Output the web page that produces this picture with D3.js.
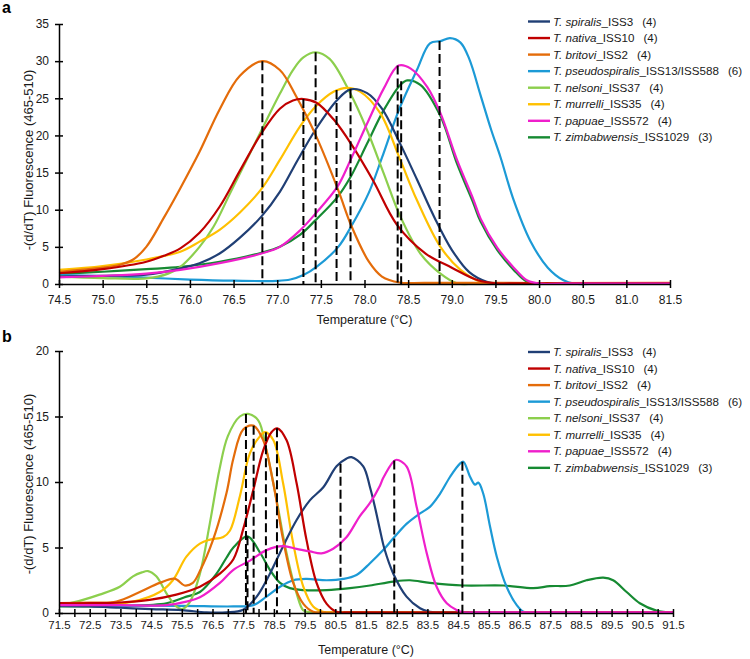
<!DOCTYPE html>
<html>
<head>
<meta charset="utf-8">
<title>Trichinella HRM melting peaks</title>
<script src="https://d3js.org/d3.v7.min.js"></script>
<style>
  body { margin: 0; background: #fff; }
  svg { font-family: "Liberation Sans", Arial, sans-serif; }
</style>
</head>
<body>
<script>
// legend order
const species = ["T. spiralis", "T. nativa", "T. britovi", "T. pseudospiralis", "T. nelsoni", "T. murrelli", "T. papuae", "T. zimbabwensis"];
const isolates = ["_ISS3", "_ISS10", "_ISS2", "_ISS13/ISS588", "_ISS37", "_ISS35", "_ISS572", "_ISS1029"];
const counts = ["(4)", "(4)", "(4)", "(6)", "(4)", "(4)", "(4)", "(3)"];
const colors = ["#203f75", "#c00000", "#e46c0a", "#1c9ad6", "#8ccf4d", "#ffc000", "#ef1fcb", "#168a32"];

// panel a: [temperature, -(d/dT) fluorescence]
const aSpiralis = [[74.5,1.0],[75.0,1.1],[75.5,1.25],[75.89,2.1],[76.11,2.8],[76.34,4.1],[76.57,6.2],[76.82,9.1],[77.03,12.4],[77.23,16.6],[77.44,20.8],[77.69,24.8],[77.84,26.2],[78.03,25.7],[78.2,23.6],[78.4,19.1],[78.6,14.1],[78.8,9.0],[79.0,4.6],[79.2,1.6],[79.4,0.3],[79.55,0.05],[79.9,0.05],[81.5,0.05]];
const aNativa = [[74.5,1.45],[75.0,2.0],[75.5,3.0],[75.7,3.8],[75.89,4.8],[76.11,6.9],[76.34,10.4],[76.57,15.2],[76.82,20.3],[77.03,23.6],[77.18,24.7],[77.3,24.9],[77.45,24.4],[77.65,22.1],[77.85,18.8],[78.1,13.9],[78.37,8.0],[78.7,4.1],[79.0,2.2],[79.3,0.5],[79.5,0.1],[79.8,0.1],[81.5,0.1]];
const aBritovi = [[74.5,1.65],[75.0,2.2],[75.2,2.6],[75.35,3.3],[75.5,5.0],[75.7,8.9],[75.89,12.9],[76.11,17.8],[76.34,23.5],[76.57,28.0],[76.83,30.0],[77.03,28.8],[77.22,25.2],[77.45,19.8],[77.7,12.6],[77.85,7.8],[78.05,3.0],[78.2,1.0],[78.4,0.2],[78.7,0.15],[81.5,0.15]];
const aPseudospiralis = [[74.5,1.2],[75.0,1.05],[75.5,0.85],[76.0,0.6],[76.5,0.45],[77.0,0.42],[77.15,0.6],[77.3,1.2],[77.45,2.3],[77.7,5.0],[77.85,7.8],[78.05,12.3],[78.2,17.0],[78.4,23.6],[78.6,28.8],[78.75,32.4],[78.87,32.7],[78.98,33.1],[79.1,32.5],[79.2,30.3],[79.33,25.4],[79.45,20.8],[79.56,17.0],[79.7,11.6],[79.9,5.8],[80.1,2.2],[80.28,0.5],[80.4,0.05],[80.7,0.05],[81.5,0.05]];
const aNelsoni = [[74.5,1.0],[75.0,0.8],[75.5,0.75],[75.75,1.4],[75.89,2.3],[76.11,5.0],[76.27,7.7],[76.46,12.2],[76.65,16.7],[76.82,20.7],[77.03,25.6],[77.18,28.8],[77.3,30.5],[77.44,31.2],[77.6,30.3],[77.84,25.6],[78.03,20.7],[78.22,14.9],[78.41,9.1],[78.64,4.1],[78.87,1.4],[79.06,0.1],[79.3,0.05],[81.5,0.05]];
const aMurrelli = [[74.5,1.9],[75.0,2.4],[75.5,3.3],[75.89,4.35],[76.11,5.7],[76.34,7.3],[76.57,9.6],[76.82,12.8],[77.03,16.7],[77.26,21.2],[77.44,23.9],[77.65,25.9],[77.8,26.4],[77.95,25.9],[78.18,23.0],[78.41,16.7],[78.6,11.3],[78.87,5.0],[79.1,1.9],[79.33,0.3],[79.5,0.05],[79.8,0.05],[81.5,0.05]];
const aPapuae = [[74.5,0.9],[75.0,1.1],[75.5,1.4],[75.89,1.9],[76.34,2.8],[76.82,4.1],[77.03,5.0],[77.26,7.2],[77.44,9.5],[77.69,13.1],[77.84,16.7],[78.03,21.6],[78.22,26.3],[78.39,29.4],[78.53,29.0],[78.72,26.5],[78.87,23.0],[79.06,16.7],[79.25,11.3],[79.33,8.8],[79.52,4.9],[79.71,2.2],[79.86,0.5],[80.0,0.05],[80.3,0.05],[81.5,0.05]];
const aZimbabwensis = [[74.5,1.35],[75.0,1.65],[75.5,2.0],[75.89,2.3],[76.34,3.0],[76.82,4.2],[77.03,5.0],[77.26,6.6],[77.44,8.6],[77.69,11.7],[77.84,14.4],[78.03,18.9],[78.22,23.4],[78.41,26.8],[78.49,27.4],[78.64,26.8],[78.87,22.6],[79.06,16.2],[79.25,10.8],[79.33,8.4],[79.52,4.6],[79.71,1.9],[79.86,0.3],[80.0,0.05],[80.3,0.05],[81.5,0.05]];
const aTm = [77.84, 77.30, 76.83, 78.86, 77.44, 77.68, 78.38, 78.42];
const aTmHeight = [26.2, 24.9, 30.0, 32.7, 31.2, 26.1, 29.4, 27.3];

// panel b
const bSpiralis = [[71.5,0.55],[72.5,0.5],[73.5,0.4],[74.5,0.3],[75.5,0.22],[76.3,0.05],[76.95,0.05],[77.5,0.25],[77.94,1.25],[78.37,3.0],[78.8,5.1],[79.24,7.1],[79.67,8.6],[80.11,9.6],[80.54,11.2],[80.87,11.8],[81.03,11.9],[81.41,11.2],[81.63,9.6],[81.8,8.0],[81.95,6.4],[82.1,4.9],[82.39,3.0],[82.82,1.25],[83.26,0.36],[83.58,0.08],[84.0,0.05],[91.5,0.05]];
const bNativa = [[71.5,0.75],[72.5,0.75],[73.5,0.8],[74.45,1.0],[75.32,1.4],[76.09,2.0],[76.74,3.0],[77.18,4.1],[77.5,6.4],[77.83,9.4],[78.15,12.4],[78.42,13.8],[78.61,14.1],[78.91,13.2],[79.24,9.9],[79.56,5.6],[79.89,2.3],[80.22,0.7],[80.54,0.1],[81.0,0.05],[91.5,0.05]];
const bBritovi = [[71.5,0.75],[72.5,0.8],[73.37,0.87],[74.13,1.6],[74.78,2.3],[75.27,2.62],[75.59,2.1],[75.86,2.3],[76.09,3.2],[76.52,5.6],[76.96,9.2],[77.18,11.8],[77.5,14.0],[77.83,14.3],[78.15,13.2],[78.48,9.9],[78.8,5.6],[79.13,2.3],[79.46,0.7],[79.78,0.1],[80.2,0.05],[91.5,0.05]];
const bPseudospiralis = [[71.5,0.55],[73.5,0.55],[75.5,0.55],[77.18,0.5],[77.83,0.6],[78.26,1.25],[78.7,2.0],[79.13,2.5],[79.56,2.6],[80.22,2.5],[80.76,2.6],[81.19,2.9],[81.63,3.8],[82.06,4.8],[82.39,5.7],[82.82,6.8],[83.26,7.6],[83.58,8.1],[83.91,9.1],[84.24,10.4],[84.56,11.4],[84.67,11.55],[84.89,10.4],[85.05,9.8],[85.16,9.95],[85.32,9.1],[85.54,6.6],[85.76,4.3],[86.08,2.0],[86.41,0.6],[86.63,0.1],[87.0,0.05],[91.5,0.05]];
const bNelsoni = [[71.5,0.55],[72.28,1.0],[72.82,1.4],[73.48,2.0],[73.91,2.8],[74.2,3.1],[74.4,3.2],[74.67,2.8],[75.0,1.5],[75.32,0.5],[75.5,0.3],[75.75,0.8],[76.09,3.0],[76.41,6.8],[76.73,11.0],[77.0,13.5],[77.39,15.0],[77.66,15.2],[77.99,14.7],[78.26,12.4],[78.59,8.6],[78.91,4.6],[79.24,1.5],[79.46,0.2],[79.7,0.05],[80.1,0.05],[91.5,0.05]];
const bMurrelli = [[71.5,0.55],[72.5,0.6],[73.91,0.87],[74.78,1.6],[75.21,2.5],[75.65,4.3],[76.09,5.3],[76.42,5.6],[76.85,5.8],[77.07,6.3],[77.39,8.9],[77.72,12.2],[78.05,13.5],[78.21,13.8],[78.48,13.2],[78.8,9.9],[79.13,5.3],[79.46,2.0],[79.78,0.5],[80.1,0.1],[80.5,0.05],[91.5,0.05]];
const bPapuae = [[71.5,0.6],[73.5,0.6],[75.0,0.6],[75.65,0.87],[76.09,1.2],[76.74,2.3],[77.18,3.3],[77.72,4.0],[78.26,4.8],[78.8,5.1],[79.24,4.9],[79.67,4.7],[80.05,4.55],[80.43,4.9],[80.87,5.8],[81.3,7.4],[81.63,8.4],[81.95,9.7],[82.06,10.3],[82.39,11.55],[82.5,11.7],[82.82,11.2],[83.15,8.1],[83.48,4.55],[83.8,2.0],[84.13,0.74],[84.45,0.23],[84.67,0.05],[85.0,0.05],[91.5,0.05]];
const bZimbabwensis = [[71.5,0.5],[73.5,0.55],[75.0,0.74],[75.65,1.25],[76.09,1.6],[76.63,3.0],[76.95,4.2],[77.18,5.0],[77.64,5.85],[78.05,4.6],[78.37,3.3],[78.7,2.3],[79.02,1.9],[79.46,1.75],[80.22,1.75],[80.98,1.9],[81.63,2.1],[82.39,2.4],[82.93,2.5],[83.58,2.3],[84.67,2.1],[85.97,2.1],[86.95,1.9],[87.49,2.05],[88.14,2.1],[88.68,2.5],[89.23,2.7],[89.55,2.5],[89.99,1.6],[90.42,0.74],[90.96,0.18],[91.5,0.03]];
const bTm = [80.67, 78.60, 77.84, 84.64, 77.59, 78.24, 82.42, 77.64];
const bTmHeight = [11.4, 14.1, 14.3, 11.55, 15.2, 13.8, 11.65, 5.85];

// axis ticks
const aXTicks = [74.5, 75.0, 75.5, 76.0, 76.5, 77.0, 77.5, 78.0, 78.5, 79.0, 79.5, 80.0, 80.5, 81.0, 81.5];
const aYTicks = [0, 5, 10, 15, 20, 25, 30, 35];
const bXLabels = [71.5, 72.5, 73.5, 74.5, 75.5, 76.5, 77.5, 78.5, 79.5, 80.5, 81.5, 82.5, 83.5, 84.5, 85.5, 86.5, 87.5, 88.5, 89.5, 90.5, 91.5];
const bYTicks = [0, 5, 10, 15, 20];

// order the series are painted in (last one on top)
const drawOrder = [7, 3, 4, 5, 0, 2, 1, 6];

const svg = d3.select("body").append("svg")
    .attr("width", 750)
    .attr("height", 659);

function drawPanel(p) {
    const x = d3.scaleLinear().domain(p.xDomain).range([59, p.right]);
    const y = d3.scaleLinear().domain(p.yDomain).range([p.bottom, p.top]);
    const g = svg.append("g");

    // smooth curve through the read points
    const line = d3.line()
        .x(d => x(d[0]))
        .y(d => y(d[1]))
        .curve(d3.curveCatmullRom.alpha(0.5));

    drawOrder.forEach(i => {
        g.append("path")
            .attr("d", line(p.series[i]))
            .attr("fill", "none")
            .attr("stroke", colors[i])
            .attr("stroke-width", 2.2);
    });

    // dashed Tm markers
    g.selectAll(".tm")
        .data(p.tm)
        .join("line")
        .attr("class", "tm")
        .attr("x1", d => x(d))
        .attr("x2", d => x(d))
        .attr("y1", (d, i) => y(p.tmHeight[i]))
        .attr("y2", y(0))
        .attr("stroke", "#000")
        .attr("stroke-width", 2)
        .attr("stroke-dasharray", "9,4");

    // axes, ticks cross the axis line
    const xAxis = d3.axisBottom(x)
        .tickValues(p.xTicks)
        .tickFormat(p.xFormat)
        .tickSizeInner(4)
        .tickSizeOuter(0)
        .tickPadding(p.xPad);
    const gx = g.append("g")
        .attr("transform", "translate(0," + p.bottom + ")")
        .call(xAxis);
    gx.selectAll(".tick line").attr("y1", -4).attr("y2", 4);
    gx.selectAll("text").attr("font-size", p.xFont).attr("fill", "#1a1a1a")
        .attr("font-family", "Liberation Sans, Arial, sans-serif");

    const yAxis = d3.axisLeft(y)
        .tickValues(p.yTicks)
        .tickSizeInner(4)
        .tickSizeOuter(0)
        .tickPadding(6);
    const gy = g.append("g")
        .attr("transform", "translate(59,0)")
        .call(yAxis);
    gy.selectAll(".tick line").attr("x1", 4).attr("x2", -4);
    gy.selectAll("text").attr("font-size", 12).attr("fill", "#1a1a1a")
        .attr("font-family", "Liberation Sans, Arial, sans-serif");

    g.selectAll(".domain, .tick line").attr("stroke", "#000").attr("stroke-width", 1.5);

    // axis titles
    g.append("text")
        .attr("x", (59 + p.right) / 2)
        .attr("y", p.xTitleY)
        .attr("text-anchor", "middle")
        .attr("font-size", 12.5)
        .attr("fill", "#1a1a1a")
        .text("Temperature (°C)");
    g.append("text")
        .attr("transform", "translate(33," + p.yTitleMid + ") rotate(-90)")
        .attr("text-anchor", "middle")
        .attr("font-size", 13)
        .attr("fill", "#1a1a1a")
        .text("-(d/dT) Fluorescence (465-510)");

    // panel letter
    g.append("text")
        .attr("x", 2)
        .attr("y", p.letterY)
        .attr("font-size", 16)
        .attr("font-weight", "bold")
        .text(p.letter);

    // legend
    const leg = g.selectAll(".leg")
        .data(species)
        .join("g")
        .attr("class", "leg")
        .attr("transform", (d, i) => "translate(528," + (p.legendY + i * 16.55) + ")");
    leg.append("line")
        .attr("x1", 0).attr("x2", 22)
        .attr("stroke", (d, i) => colors[i])
        .attr("stroke-width", 2.4);
    const lt = leg.append("text")
        .attr("x", 25)
        .attr("dy", "0.35em")
        .attr("font-size", 11.6)
        .attr("fill", "#1a1a1a");
    lt.append("tspan").attr("font-style", "italic").text(d => d);
    lt.append("tspan").text((d, i) => isolates[i]);
    lt.append("tspan").attr("dx", 9).text((d, i) => counts[i]);
}

drawPanel({
    letter: "a", letterY: 13,
    series: [aSpiralis, aNativa, aBritovi, aPseudospiralis, aNelsoni, aMurrelli, aPapuae, aZimbabwensis],
    tm: aTm, tmHeight: aTmHeight,
    xDomain: [74.5, 81.5], yDomain: [0, 35],
    right: 670, top: 24, bottom: 284,
    xTicks: aXTicks, xFormat: d3.format(".1f"), xFont: 12, xPad: 7,
    yTicks: aYTicks,
    xTitleY: 324, yTitleMid: 160,
    legendY: 21.5
});

drawPanel({
    letter: "b", letterY: 342,
    series: [bSpiralis, bNativa, bBritovi, bPseudospiralis, bNelsoni, bMurrelli, bPapuae, bZimbabwensis],
    tm: bTm, tmHeight: bTmHeight,
    xDomain: [71.5, 91.5], yDomain: [0, 20],
    right: 673, top: 351, bottom: 613,
    xTicks: d3.range(71.5, 91.51, 0.5),
    xFormat: v => bXLabels.includes(v) ? v.toFixed(1) : "",
    xFont: 11.5, xPad: 4,
    yTicks: bYTicks,
    xTitleY: 654, yTitleMid: 484,
    legendY: 352
});
</script>
</body>
</html>
